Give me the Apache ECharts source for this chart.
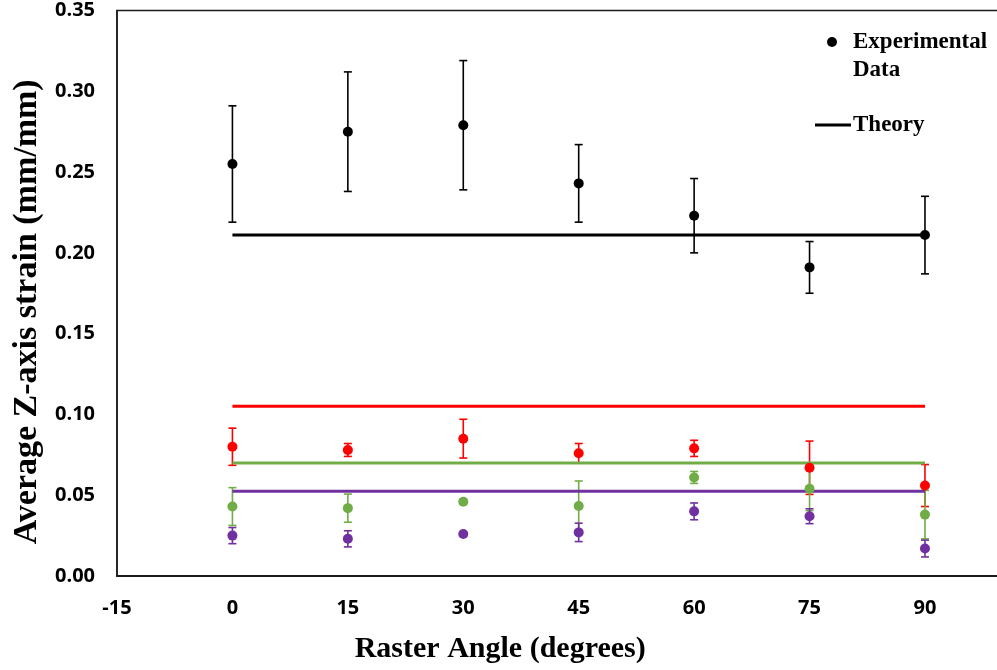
<!DOCTYPE html>
<html>
<head>
<meta charset="utf-8">
<script src="https://cdn.jsdelivr.net/npm/echarts@6/dist/echarts.min.js"></script>
<style>
  html, body { margin: 0; padding: 0; background: #fff; }
  #chart { width: 997px; height: 670px; }
</style>
</head>
<body>
<div id="chart"></div>
<script>
// Raster angles (degrees)
const angles = [0, 15, 30, 45, 60, 75, 90];

// Measured Z-axis strain (mean and ± error) for each material/condition
const blackMean  = [0.255, 0.275, 0.279, 0.243, 0.223, 0.191, 0.211];
const blackErr   = [0.036, 0.037, 0.040, 0.024, 0.023, 0.016, 0.024];
const redMean    = [0.080, 0.078, 0.085, 0.076, 0.079, 0.067, 0.056];
const redErr     = [0.0115, 0.004, 0.012, 0.006, 0.005, 0.0165, 0.013];
const greenMean  = [0.043, 0.042, 0.046, 0.0433, 0.061, 0.054, 0.038];
const greenErr   = [0.0117, 0.0087, 0.0015, 0.0155, 0.0037, 0.0135, 0.015];
const purpleMean = [0.025, 0.023, 0.026, 0.027, 0.040, 0.037, 0.017];
const purpleErr  = [0.005, 0.005, 0.001, 0.0057, 0.0052, 0.0046, 0.0052];

// Theoretical strain (constant over raster angle)
const theoryBlack  = 0.211;
const theoryRed    = 0.105;
const theoryGreen  = 0.070;
const theoryPurple = 0.0525;

// Axis ticks
const xTicks = { min: -15, max: 105, interval: 15 };
const yTicks = { min: 0, max: 0.35, interval: 0.05 };

const BLACK = '#000000', RED = '#FF0000', GREEN = '#70AD47', PURPLE = '#7030A0';

function errorBars(name, means, errs, color) {
  return {
    name: name,
    type: 'custom',
    z: 1,
    silent: true,
    data: angles.map((a, i) => [a, means[i] - errs[i], means[i] + errs[i]]),
    encode: { x: 0, y: [1, 2] },
    renderItem: function (params, api) {
      const lo = api.coord([api.value(0), api.value(1)]);
      const hi = api.coord([api.value(0), api.value(2)]);
      const hw = 4;
      const st = { stroke: color, lineWidth: 1.6 };
      return {
        type: 'group',
        children: [
          { type: 'line', shape: { x1: lo[0], y1: lo[1], x2: hi[0], y2: hi[1] }, style: st },
          { type: 'line', shape: { x1: lo[0] - hw, y1: lo[1], x2: lo[0] + hw, y2: lo[1] }, style: st },
          { type: 'line', shape: { x1: hi[0] - hw, y1: hi[1], x2: hi[0] + hw, y2: hi[1] }, style: st }
        ]
      };
    }
  };
}

function points(name, means, color) {
  return {
    name: name,
    type: 'scatter',
    z: 3,
    symbol: 'circle',
    symbolSize: 10,
    itemStyle: { color: color, opacity: 1 },
    data: angles.map((a, i) => [a, means[i]])
  };
}

function theoryLine(name, value, color) {
  return {
    name: name,
    type: 'line',
    z: 2,
    symbol: 'none',
    lineStyle: { color: color, width: 3 },
    data: [[angles[0], value], [angles[angles.length - 1], value]]
  };
}

const chart = echarts.init(document.getElementById('chart'), null, { renderer: 'canvas' });

const serif = '"Liberation Serif", "Times New Roman", serif';
const legendFont = 'bold 23px ' + serif;

chart.setOption({
  animation: false,
  backgroundColor: '#ffffff',
  grid: {
    left: 117, top: 10.5, right: -43.4, bottom: 94,
    outerBoundsMode: 'none',
    containLabel: false,
    show: true, borderColor: '#1a1a1a', borderWidth: 1.5
  },
  xAxis: {
    type: 'value',
    min: xTicks.min, max: xTicks.max, interval: xTicks.interval,
    name: 'Raster Angle (degrees)',
    nameLocation: 'middle',
    nameGap: 58,
    nameTextStyle: {
      fontFamily: serif, fontWeight: 'bold', fontSize: 30, color: '#000',
      padding: [0, 157, 0, 0]
    },
    axisLine: { show: true, onZero: false, lineStyle: { color: '#1a1a1a', width: 2 } },
    axisTick: { show: false },
    splitLine: { show: false },
    axisLabel: {
      margin: 22,
      fontFamily: '"Open Sans", sans-serif', fontWeight: 'bold', fontSize: 20, color: '#000'
    }
  },
  yAxis: {
    type: 'value',
    min: yTicks.min, max: yTicks.max, interval: yTicks.interval,
    name: 'Average Z-axis strain (mm/mm)',
    nameLocation: 'middle',
    nameGap: 73,
    nameTextStyle: {
      fontFamily: serif, fontWeight: 'bold', fontSize: 34, color: '#000',
      padding: [0, 37, 0, 0]
    },
    axisLine: { show: true, onZero: false, lineStyle: { color: '#1a1a1a', width: 1.5 } },
    axisTick: { show: false },
    splitLine: { show: false },
    axisLabel: {
      margin: 22,
      formatter: v => v.toFixed(2),
      fontFamily: '"Open Sans", sans-serif', fontWeight: 'bold', fontSize: 20, color: '#000'
    }
  },
  series: [
    errorBars('err-black', blackMean, blackErr, BLACK),
    errorBars('err-red', redMean, redErr, RED),
    errorBars('err-green', greenMean, greenErr, GREEN),
    errorBars('err-purple', purpleMean, purpleErr, PURPLE),
    theoryLine('Theory', theoryBlack, BLACK),
    theoryLine('Theory red', theoryRed, RED),
    theoryLine('Theory green', theoryGreen, GREEN),
    theoryLine('Theory purple', theoryPurple, PURPLE),
    points('Experimental Data', blackMean, BLACK),
    points('Experimental red', redMean, RED),
    points('Experimental green', greenMean, GREEN),
    points('Experimental purple', purpleMean, PURPLE)
  ],
  graphic: [
    { type: 'circle', shape: { cx: 832, cy: 42, r: 5 }, style: { fill: BLACK }, z: 10 },
    { type: 'text', x: 853, y: 42, style: { text: 'Experimental', font: legendFont, fill: '#000', verticalAlign: 'middle' }, z: 10 },
    { type: 'text', x: 853, y: 70, style: { text: 'Data', font: legendFont, fill: '#000', verticalAlign: 'middle' }, z: 10 },
    { type: 'line', shape: { x1: 815, y1: 125, x2: 851, y2: 125 }, style: { stroke: BLACK, lineWidth: 3 }, z: 10 },
    { type: 'text', x: 853, y: 125, style: { text: 'Theory', font: legendFont, fill: '#000', verticalAlign: 'middle' }, z: 10 }
  ]
});
</script>
</body>
</html>
